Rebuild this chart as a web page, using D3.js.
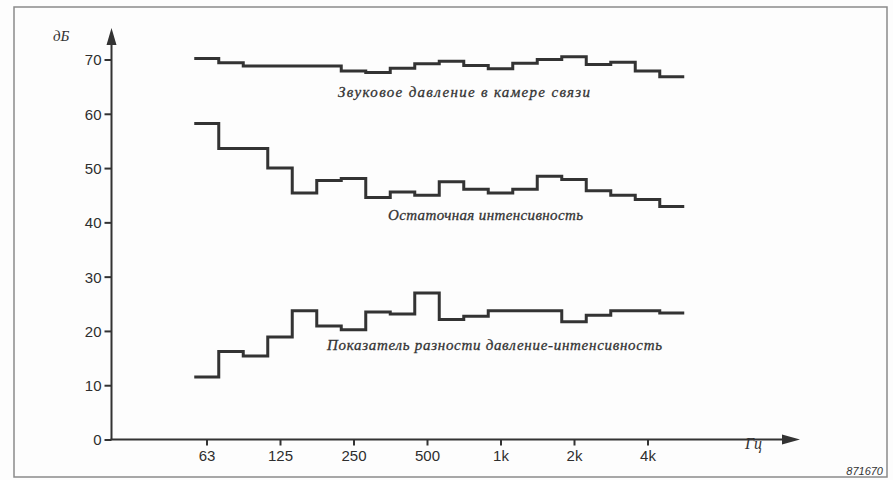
<!DOCTYPE html>
<html>
<head>
<meta charset="utf-8">
<script src="https://cdn.jsdelivr.net/npm/d3@7"></script>
<style>
  html, body { margin: 0; padding: 0; background: #fdfdfd; }
  svg { display: block; }
</style>
</head>
<body>
<svg id="chart" width="893" height="480"></svg>
<script>
// 1/3-octave bands from 63 Hz to 5 kHz
const bands = ["63","80","100","125","160","200","250","315","400","500","630","800","1k","1.25k","1.6k","2k","2.5k","3.15k","4k","5k"];
const tickLabels = ["63","125","250","500","1k","2k","4k"];
const yTicks = [0,10,20,30,40,50,60,70];

const soundPressure = [70.2,69.4,68.8,68.8,68.8,68.8,67.9,67.6,68.4,69.2,69.7,68.9,68.3,69.3,70.0,70.5,69.1,69.5,67.9,66.8];
const residualIntensity = [58.2,53.6,53.6,50.0,45.4,47.7,48.1,44.6,45.6,45.0,47.5,46.1,45.4,46.1,48.5,47.9,45.8,45.0,44.2,42.9];
const pressureIntensityIndex = [11.5,16.2,15.4,18.9,23.7,20.9,20.2,23.5,23.1,27.0,22.1,22.7,23.7,23.7,23.7,21.7,22.9,23.7,23.7,23.3];

const seriesLabels = [
  {text: "Звуковое давление в камере связи", series: soundPressure},
  {text: "Остаточная интенсивность", series: residualIntensity},
  {text: "Показатель разности давление-интенсивность", series: pressureIntensityIndex}
];

const svg = d3.select("#chart");
const ink = "#333";

// frame
svg.append("rect").attr("x", 14).attr("y", 7).attr("width", 873).attr("height", 470)
  .attr("fill", "none").attr("stroke", "#8a8a8a").attr("stroke-width", 1.5);

const x = d3.scaleLinear().domain([0, 18]).range([206.5, 647.5]); // band index
const y = d3.scaleLinear().domain([0, 70]).range([439.5, 59.5]);
const x0 = 111.5;

// y axis
const yAxis = d3.axisLeft(y).tickValues(yTicks).tickSize(7).tickPadding(3).tickFormat(d3.format("d"));
const gy = svg.append("g").attr("transform", `translate(${x0},0)`).call(yAxis);
gy.select(".domain").remove();
gy.selectAll(".tick line").attr("stroke", ink).attr("stroke-width", 2);
gy.selectAll(".tick text").attr("fill", "#2e2e2e").attr("font-family", "Liberation Sans, Arial, sans-serif").attr("font-size", 15).attr("dy", "0.36em");
svg.append("line").attr("x1", x0).attr("x2", x0).attr("y1", y(0)).attr("y2", 40)
  .attr("stroke", ink).attr("stroke-width", 2);
svg.append("path").attr("d", `M${x0},28 L${x0-5},45 L${x0+5},45 Z`).attr("fill", ink);

// x axis
const xAxis = d3.axisBottom(x).tickValues(d3.range(0, 19, 3)).tickSize(6).tickPadding(5)
  .tickFormat((d, i) => tickLabels[i]);
const gx = svg.append("g").attr("transform", `translate(0,${y(0)})`).call(xAxis);
gx.select(".domain").remove();
gx.selectAll(".tick line").attr("stroke", ink).attr("stroke-width", 2);
gx.selectAll(".tick text").attr("fill", "#2e2e2e").attr("font-family", "Liberation Sans, Arial, sans-serif").attr("font-size", 15);
svg.append("line").attr("x1", x0 - 1).attr("x2", 784).attr("y1", y(0)).attr("y2", y(0))
  .attr("stroke", ink).attr("stroke-width", 2);
svg.append("path").attr("d", `M800,${y(0)} L782,${y(0)-5} L782,${y(0)+5} Z`).attr("fill", ink);

// axis titles
svg.append("text").attr("x", 53).attr("y", 41).text("дБ")
  .attr("font-family", "Liberation Serif, serif").attr("font-style", "italic").attr("font-size", 15).attr("fill", "#333");
svg.append("text").attr("x", 745).attr("y", 449).text("Гц")
  .attr("font-family", "Liberation Serif, serif").attr("font-style", "italic").attr("font-size", 16).attr("fill", "#333");
svg.append("text").attr("x", 883).attr("y", 475).attr("text-anchor", "end").text("871670")
  .attr("font-family", "Liberation Sans, Arial, sans-serif").attr("font-style", "italic").attr("font-size", 11).attr("fill", "#333");

// step lines
const line = d3.line().x(d => x(d[0])).y(d => y(d[1])).curve(d3.curveStepAfter);
[soundPressure, residualIntensity, pressureIntensityIndex].forEach(s => {
  const pts = s.map((v, i) => [i - 0.5, v]);
  pts.push([s.length - 0.5, s[s.length - 1]]);
  svg.append("path").attr("d", line(pts)).attr("fill", "none")
    .attr("stroke", ink).attr("stroke-width", 3).attr("stroke-linejoin", "miter");
});

// series labels
const labelPos = [[338, 97, 252], [388, 220, 195], [327, 350, 335]];
seriesLabels.forEach((l, i) => {
  svg.append("text").attr("x", labelPos[i][0]).attr("y", labelPos[i][1]).text(l.text)
    .attr("textLength", labelPos[i][2]).attr("lengthAdjust", "spacing")
    .attr("font-family", "Liberation Serif, serif").attr("font-style", "italic")
    .attr("font-size", 15).attr("fill", "#333").attr("stroke", "#333").attr("stroke-width", 0.3);
});
</script>
</body>
</html>
